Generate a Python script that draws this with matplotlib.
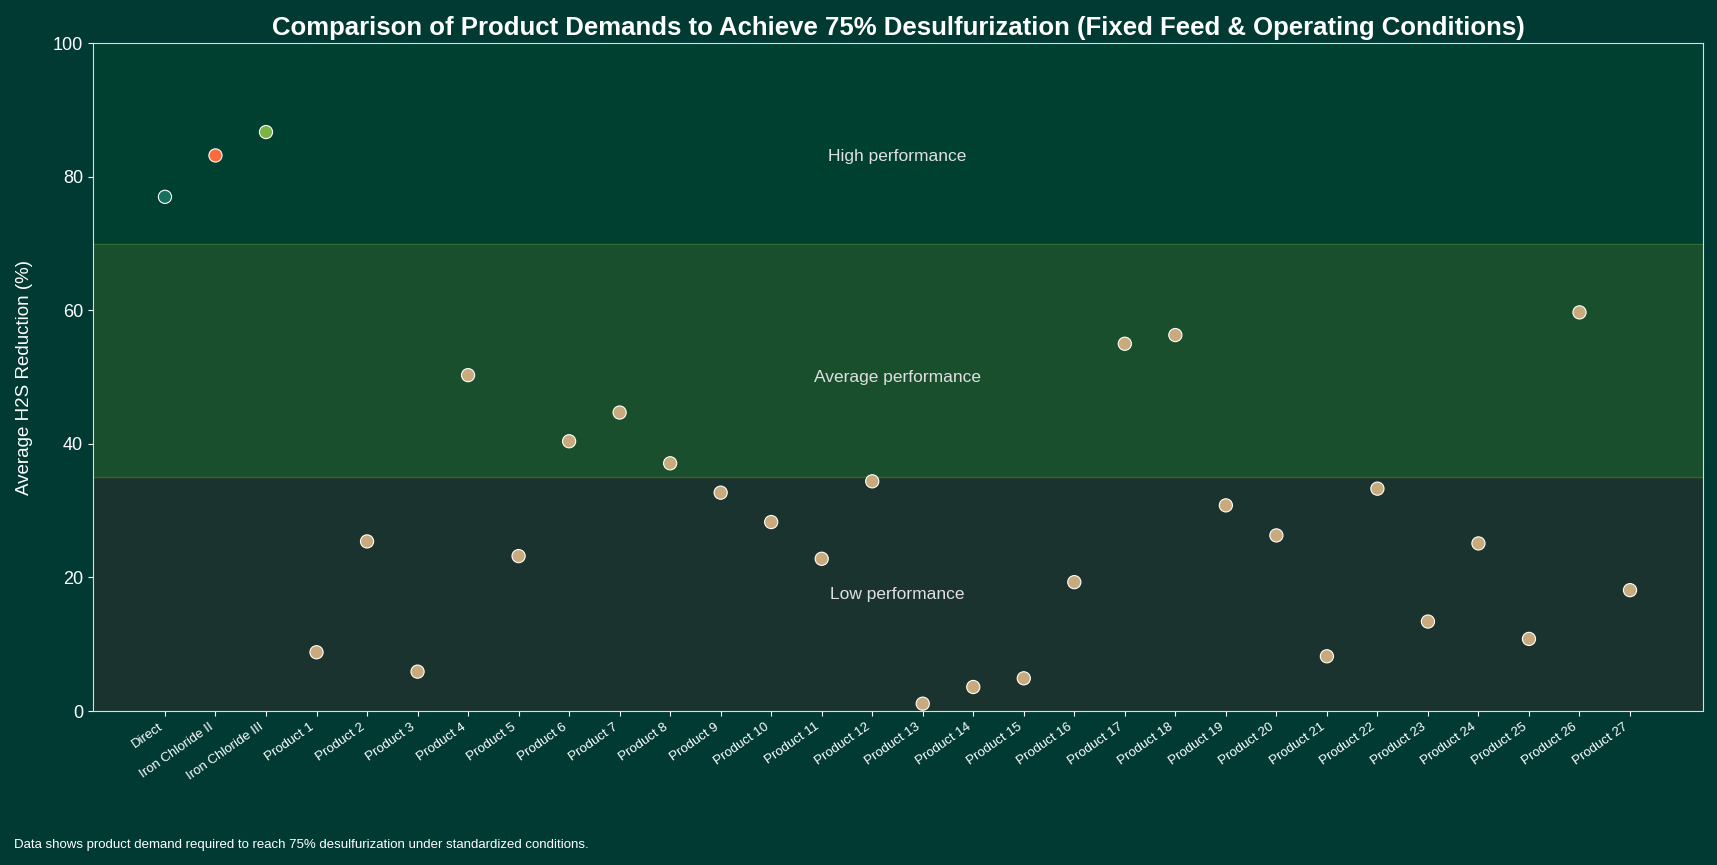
import matplotlib.pyplot as plt
import numpy as np

plt.rcParams["font.family"] = ["Liberation Sans", "DejaVu Sans"]

labels = ["Direct", "Iron Chloride II", "Iron Chloride III"] + [f"Product {i}" for i in range(1, 28)]
values = [77.0, 83.2, 86.7, 8.8, 25.4, 5.9, 50.3, 23.2, 40.4, 44.7, 37.1, 32.7, 28.3,
          22.8, 34.4, 1.1, 3.6, 4.9, 19.3, 55.0, 56.3, 30.8, 26.3, 8.2, 33.3, 13.4,
          25.1, 10.8, 59.7, 18.1]
colors = ["#17705e", "#ff6a3d", "#7cb342"] + ["#c9aa7c"] * 27

bands = [(0, 35, "#1b332e", "Low performance", 17.5),
         (35, 70, "#1a4f2e", "Average performance", 50),
         (70, 100, "#004030", "High performance", 83)]

bg = "#003a33"
fig, ax = plt.subplots(figsize=(17.17, 8.65), dpi=100)
fig.patch.set_facecolor(bg)
ax.set_facecolor(bg)

x = np.arange(len(labels))
for lo, hi, c, name, ty in bands:
    ax.axhspan(lo, hi, color=c, zorder=0)
    ax.text((len(labels) - 1) / 2, ty, name, color="#e0e0e0", fontsize=12.5,
            ha="center", va="center")
ax.axhline(70, color="#2e6b30", lw=1)
ax.axhline(35, color="#4a5a20", lw=1)

ax.scatter(x, values, c=colors, s=90, edgecolors="white", linewidths=0.8, zorder=3)

ax.set_xlim(-1.43, len(labels) - 1 + 1.45)
ax.set_ylim(0, 100)
ax.set_xticks(x)
ax.set_xticklabels(labels, rotation=35, ha="right", fontsize=9.5, color="white")
ax.tick_params(axis="y", colors="white", labelsize=13)
ax.tick_params(axis="x", colors="white")
for s in ax.spines.values():
    s.set_color("#dddddd")
ax.set_ylabel("Average H2S Reduction (%)", color="white", fontsize=13.5, labelpad=14)
ax.set_title("Comparison of Product Demands to Achieve 75% Desulfurization (Fixed Feed & Operating Conditions)",
             color="white", fontsize=18.5, fontweight="bold")
fig.text(0.008, 0.02, "Data shows product demand required to reach 75% desulfurization under standardized conditions.",
         color="white", fontsize=9.5)
plt.subplots_adjust(left=0.054, right=0.992, top=0.95, bottom=0.178)
plt.savefig("out.png", facecolor=bg)
